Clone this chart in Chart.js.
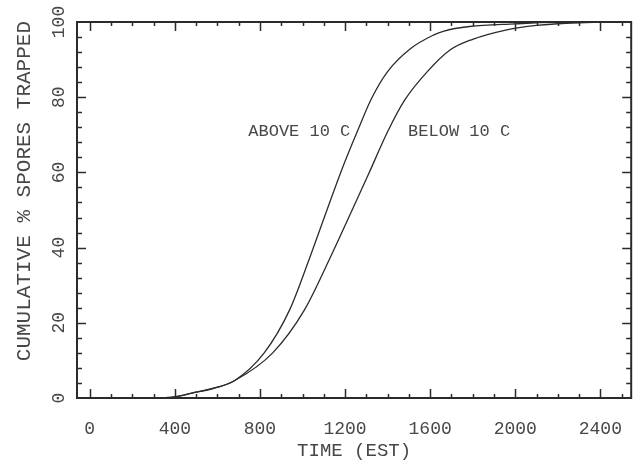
<!DOCTYPE html>
<html>
<head>
<meta charset="utf-8">
<script src="https://cdn.jsdelivr.net/npm/chart.js@4.4.1/dist/chart.umd.min.js"></script>
<style>
  html, body { margin: 0; padding: 0; background: #fff; }
</style>
</head>
<body>
<canvas id="graphic" width="642" height="465"></canvas>
<script>
// cumulative % of spores trapped vs time of day (EST)
const seriesNames = ['ABOVE 10 C', 'BELOW 10 C'];
const aboveTime = [0, 300, 400, 480, 580, 680, 820, 940, 1030, 1115, 1185, 1260, 1325, 1400, 1510, 1615, 1665, 1785, 2000, 2170, 2545];
const aboveCum  = [0, 0, 0.3, 1.3, 2.6, 4.6, 12, 23.5, 36.7, 50, 60.8, 71.2, 79.7, 86.8, 93, 96.5, 97.6, 98.8, 99.5, 99.9, 100];
const belowTime = [0, 300, 400, 480, 580, 680, 860, 1010, 1125, 1235, 1310, 1400, 1480, 1590, 1695, 1800, 1950, 2100, 2300, 2545];
const belowCum  = [0, 0, 0.3, 1.3, 2.5, 4.6, 12, 23.5, 36.7, 50.2, 59.5, 70.8, 79.2, 87, 92.6, 95.4, 97.8, 99.1, 99.8, 100];
const timeTicks = [0, 400, 800, 1200, 1600, 2000, 2400];
const pctTicks = [0, 20, 40, 60, 80, 100];
// where the curve names sit (data coords)
const nameTime = [985, 1736];
const nameCum = [71, 71];

const ink = '#2b2b2b';
const textInk = '#474747';
const mono = '"Liberation Mono", "DejaVu Sans Mono", monospace';

const toPoints = (xs, ys) => xs.map((t, i) => ({ x: t, y: ys[i] }));

// box around the plot, inward ticks on all four sides, curve names
const frame = {
  id: 'frame',
  afterDatasetsDraw(chart) {
    const { ctx, chartArea: a, scales: { x, y } } = chart;
    ctx.save();
    ctx.strokeStyle = ink;
    ctx.lineWidth = 1.5;
    ctx.beginPath();
    for (let t = 0; t <= 2500; t += 100) {
      const px = Math.round(x.getPixelForValue(t)) + 0.5;
      if (px <= a.left + 1 || px >= a.right - 1) continue;
      const len = t % 400 === 0 ? 9 : 4;
      ctx.moveTo(px, a.bottom); ctx.lineTo(px, a.bottom - len);
      ctx.moveTo(px, a.top); ctx.lineTo(px, a.top + len);
    }
    for (let v = 4; v < 100; v += 4) {
      const py = Math.round(y.getPixelForValue(v)) + 0.5;
      const len = v % 20 === 0 ? 9 : 5;
      ctx.moveTo(a.left, py); ctx.lineTo(a.left + len, py);
      ctx.moveTo(a.right, py); ctx.lineTo(a.right - len, py);
    }
    ctx.stroke();
    ctx.lineWidth = 2;
    ctx.strokeRect(a.left, a.top, a.width, a.height);

    ctx.font = '17px ' + mono;
    ctx.fillStyle = textInk;
    ctx.textAlign = 'center';
    ctx.textBaseline = 'middle';
    seriesNames.forEach((n, i) => {
      ctx.fillText(n, x.getPixelForValue(nameTime[i]), y.getPixelForValue(nameCum[i]));
    });
    ctx.restore();
  }
};

const ctx = document.getElementById('graphic').getContext('2d');
new Chart(ctx, {
  type: 'line',
  data: {
    datasets: [
      {
        label: seriesNames[0],
        data: toPoints(aboveTime, aboveCum),
        borderColor: ink,
        borderWidth: 1.3,
        pointRadius: 0,
        cubicInterpolationMode: 'monotone',
        fill: false
      },
      {
        label: seriesNames[1],
        data: toPoints(belowTime, belowCum),
        borderColor: ink,
        borderWidth: 1.3,
        pointRadius: 0,
        cubicInterpolationMode: 'monotone',
        fill: false
      }
    ]
  },
  options: {
    responsive: false,
    devicePixelRatio: 1,
    animation: false,
    layout: { padding: { top: 22, right: 1, left: 0, bottom: 0 } },
    plugins: { legend: { display: false }, tooltip: { enabled: false } },
    scales: {
      x: {
        type: 'linear',
        min: -60,
        max: 2545,
        afterBuildTicks: s => { s.ticks = timeTicks.map(v => ({ value: v })); },
        afterFit: s => { s.height = 67; },
        grid: { display: false, drawTicks: false },
        border: { display: false },
        ticks: {
          autoSkip: false,
          maxRotation: 0,
          padding: 20,
          color: textInk,
          font: { family: mono, size: 18 },
          callback: v => String(v)
        },
        title: {
          display: true,
          text: 'TIME (EST)',
          color: textInk,
          font: { family: mono, size: 19 },
          padding: { top: 0, bottom: 3 }
        }
      },
      y: {
        type: 'linear',
        min: 0,
        max: 100,
        afterBuildTicks: s => { s.ticks = pctTicks.map(v => ({ value: v })); },
        afterFit: s => { s.width = 77; },
        grid: { display: false, drawTicks: false },
        border: { display: false },
        ticks: {
          minRotation: 90,
          maxRotation: 90,
          crossAlign: 'center',
          padding: 2,
          color: textInk,
          font: { family: mono, size: 18 },
          callback: v => String(v)
        },
        title: {
          display: true,
          text: '   CUMULATIVE % SPORES TRAPPED',
          color: textInk,
          font: { family: mono, size: 21 },
          padding: { top: 12, bottom: 0 }
        }
      }
    }
  },
  plugins: [frame]
});
</script>
</body>
</html>
